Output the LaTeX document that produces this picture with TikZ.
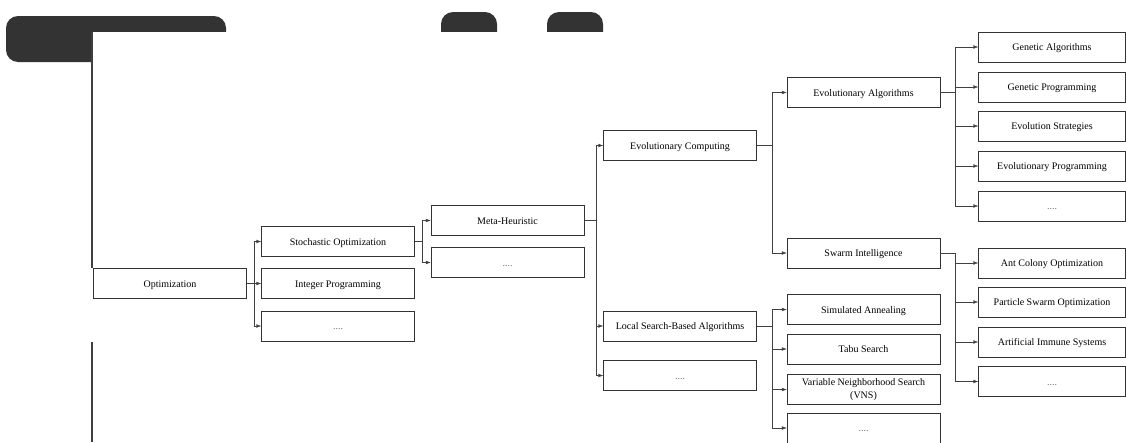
\documentclass[tikz,border=0pt]{standalone}
\usepackage{fontspec}
\setmainfont{Liberation Serif}
\usepackage{tikz}
\usetikzlibrary{arrows.meta}

\tikzset{
  box/.style={draw=black!80, fill=white, minimum width=153pt, minimum height=30pt, inner sep=1pt, text height=8.5pt, text depth=1pt, font=\fontsize{10}{12.5}\selectfont, align=center},
  leaf/.style={box, minimum width=147pt},
  more/.style={text=black!55},
  arr/.style={draw=black!75, -{Latex[length=5pt,width=3.6pt]}},
}

\begin{document}
\begin{tikzpicture}[x=1pt, y=-1pt]
        \useasboundingbox (0,0) rectangle (1126,442);
        % page behind
        \fill[black!80, rounded corners=12pt] (6,16) rectangle (226,62);
        \fill[black!80, rounded corners=12pt] (441,12) rectangle (497,44);
        \fill[black!80, rounded corners=12pt] (547,12) rectangle (603,44);
        \fill[white] (92,32) rectangle (1126,442);
        \draw[black!75, line width=1.2pt] (92,32) -- (92,268);
        \draw[black!75, line width=1.2pt] (92,342) -- (92,442);

        \node [box] (opt) at (170,283.5) {Optimization};
        \node [box] (stoch) at (338,241.5) {Stochastic Optimization};
        \node [box] (intprog) at (338,283.5) {Integer Programming};
        \node [box, more] (dotsA) at (338,326) {....};
        \node [box] (meta) at (507.5,220.5) {Meta-Heuristic};
        \node [box, more] (dotsB) at (507.5,262.5) {....};
        \node [box] (evc) at (680,145.5) {Evolutionary Computing};
        \node [box] (lsb) at (680,326) {Local Search-Based Algorithms};
        \node [box, more] (dotsC) at (680,375.5) {....};
        \node [box] (ea) at (863.5,92.5) {Evolutionary Algorithms};
        \node [box] (si) at (863.5,253) {Swarm Intelligence};
        \node [box] (sa) at (863.5,309.5) {Simulated Annealing};
        \node [box] (ts) at (863.5,349) {Tabu Search};
        \node [box, text height=, text depth=] (vns) at (863.5,389.5) {Variable Neighborhood Search\\(VNS)};
        \node [box, more] (dotsD) at (863.5,428) {....};
        \node [leaf] (ga) at (1052,47) {Genetic Algorithms};
        \node [leaf] (gp) at (1052,87) {Genetic Programming};
        \node [leaf] (es) at (1052,126) {Evolution Strategies};
        \node [leaf] (ep) at (1052,166) {Evolutionary Programming};
        \node [leaf, more] (dotsE) at (1052,206) {....};
        \node [leaf] (aco) at (1052,263) {Ant Colony Optimization};
        \node [leaf] (pso) at (1052,302) {Particle Swarm Optimization};
        \node [leaf] (ais) at (1052,342) {Artificial Immune Systems};
        \node [leaf, more] (dotsF) at (1052,381.5) {....};

        \draw [arr] (opt.east) -- ++(7,0) |- (stoch.west);
        \draw [arr] (opt.east) -- (intprog.west);
        \draw [arr] (opt.east) -- ++(7,0) |- (dotsA.west);
        \draw [arr] (stoch.east) -- ++(7,0) |- (meta.west);
        \draw [arr] (stoch.east) -- ++(7,0) |- (dotsB.west);
        \draw [arr] (meta.east) -- ++(12,0) |- (evc.west);
        \draw [arr] (meta.east) -- ++(12,0) |- (lsb.west);
        \draw [arr] (meta.east) -- ++(12,0) |- (dotsC.west);
        \draw [arr] (evc.east) -- ++(15,0) |- (ea.west);
        \draw [arr] (evc.east) -- ++(15,0) |- (si.west);
        \draw [arr] (lsb.east) -- ++(15,0) |- (sa.west);
        \draw [arr] (lsb.east) -- ++(15,0) |- (ts.west);
        \draw [arr] (lsb.east) -- ++(15,0) |- (vns.west);
        \draw [arr] (lsb.east) -- ++(15,0) |- (dotsD.west);
        \draw [arr] (ea.east) -- ++(15,0) |- (ga.west);
        \draw [arr] (ea.east) -- ++(15,0) |- (gp.west);
        \draw [arr] (ea.east) -- ++(15,0) |- (es.west);
        \draw [arr] (ea.east) -- ++(15,0) |- (ep.west);
        \draw [arr] (ea.east) -- ++(15,0) |- (dotsE.west);
        \draw [arr] (si.east) -- ++(15,0) |- (aco.west);
        \draw [arr] (si.east) -- ++(15,0) |- (pso.west);
        \draw [arr] (si.east) -- ++(15,0) |- (ais.west);
        \draw [arr] (si.east) -- ++(15,0) |- (dotsF.west);
\end{tikzpicture}
\end{document}
